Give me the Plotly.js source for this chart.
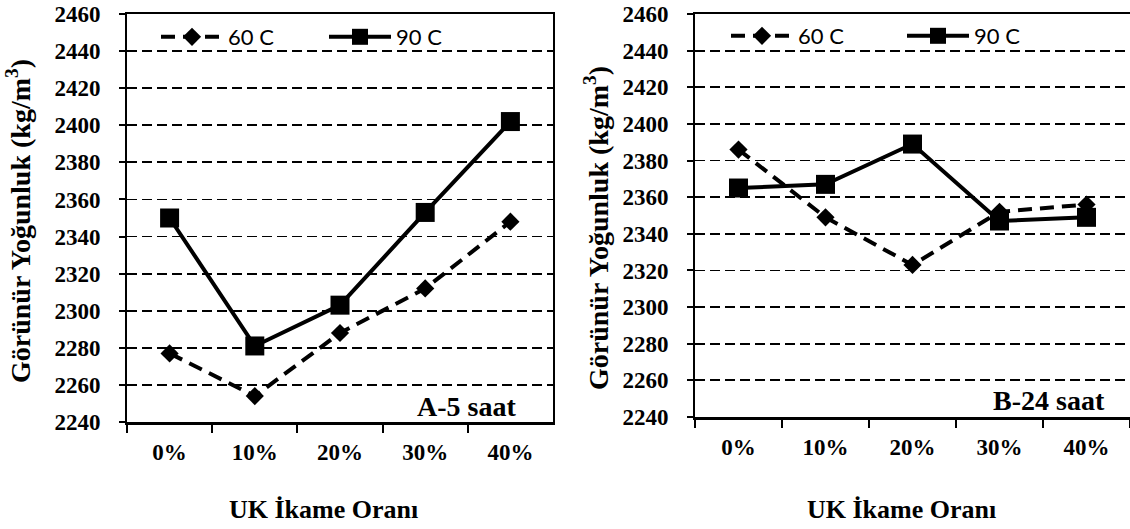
<!DOCTYPE html>
<html>
<head>
<meta charset="utf-8">
<script src="https://cdn.plot.ly/plotly-3.0.1.min.js"></script>
<style>html,body{margin:0;padding:0;background:#fff;}#chart{width:1130px;height:529px;}</style>
</head>
<body>
<div id="chart"></div>
<script>
// ---- data ----
const categories = ['0%', '10%', '20%', '30%', '40%'];
const seriesNames = ['60 C', '90 C'];
// Panel A (5 saat)
const a60 = [2277, 2254, 2288, 2312, 2348];
const a90 = [2350, 2281, 2303, 2353, 2402];
// Panel B (24 saat)
const b60 = [2386, 2349, 2323, 2352, 2356];
const b90 = [2365, 2367, 2389, 2347, 2349];
const yRange = [2240, 2460];
const yStep = 20;
const panelLabels = ['A-5 saat', 'B-24 saat'];
const xTitle = 'UK İkame Oranı';
const yTitle = 'Görünür Yoğunluk (kg/m<sup>3</sup>)';

const W = 1130, H = 529;
const px = v => v / W;
const py = v => 1 - v / H;

const serif = 'Liberation Serif, Times New Roman, serif';
const sans = 'Lato, Carlito, Calibri, sans-serif';

function s60(y, xa, ya, lg) {
  return {x: categories, y: y, xaxis: xa, yaxis: ya, name: seriesNames[0], legend: lg,
    type: 'scatter', mode: 'lines+markers',
    line: {color: '#000', width: 4, dash: '14px,8px'},
    marker: {symbol: 'diamond', size: 14, color: '#000'}};
}
function s90(y, xa, ya, lg) {
  return {x: categories, y: y, xaxis: xa, yaxis: ya, name: seriesNames[1], legend: lg,
    type: 'scatter', mode: 'lines+markers',
    line: {color: '#000', width: 4},
    marker: {symbol: 'square', size: 19, color: '#000'}};
}

const data = [
  s60(a60, 'x', 'y', 'legend'), s90(a90, 'x', 'y', 'legend'),
  s60(b60, 'x2', 'y2', 'legend2'), s90(b90, 'x2', 'y2', 'legend2')
];

function xAx(dom, anchor) {
  return {domain: dom, anchor: anchor, type: 'category', range: [-0.5, 4.5],
    showline: true, linecolor: '#000', linewidth: 2.5, mirror: true,
    ticks: 'outside', tickson: 'boundaries', ticklen: 8, tickwidth: 2, tickcolor: '#000',
    ticklabelstandoff: 8,
    showgrid: false, zeroline: false,
    tickfont: {family: serif, size: 23, color: '#000', weight: 'bold'}};
}
function yAx(dom, anchor, mirror) {
  return {domain: dom, anchor: anchor, range: yRange, dtick: yStep, tick0: yRange[0],
    showline: true, linecolor: '#000', linewidth: 2, mirror: mirror,
    ticks: 'outside', ticklen: 6, tickwidth: 2, tickcolor: '#000',
    ticklabelstandoff: 14,
    showgrid: true, gridcolor: '#000', gridwidth: 1.8, griddash: '10px,5px',
    zeroline: false,
    tickfont: {family: serif, size: 23, color: '#000', weight: 'bold'}};
}

function legendAt(xPx, yPx, ew) {
  return {x: px(xPx), y: py(yPx), xanchor: 'left', yanchor: 'middle',
    orientation: 'h', bgcolor: 'rgba(0,0,0,0)', borderwidth: 0,
    itemwidth: 62,
    entrywidth: ew, entrywidthmode: 'pixels',
    font: {family: sans, size: 22, color: '#000'}};
}

function ann(text, xPx, yPx, opts) {
  return Object.assign({text: text, xref: 'paper', yref: 'paper', x: px(xPx), y: py(yPx),
    showarrow: false, xanchor: 'center', yanchor: 'middle',
    font: {family: serif, size: 26, color: '#000', weight: 'bold'}}, opts || {});
}
const yTitleFont = {family: serif, size: 28, color: '#000', weight: 'bold'};
const panelFont = {family: serif, size: 28, color: '#000', weight: 'bold'};

const layout = {
  width: W, height: H,
  margin: {l: 0, r: 0, t: 0, b: 0},
  paper_bgcolor: '#fff', plot_bgcolor: '#fff',
  showlegend: true,
  xaxis: xAx([px(127), px(553)], 'y'),
  yaxis: yAx([py(422), py(14)], 'x', true),
  xaxis2: Object.assign(xAx([px(695), 1], 'y2'), {mirror: true}),
  yaxis2: yAx([py(417), py(14)], 'x2', false),
  legend: legendAt(156, 37, 91),
  legend2: legendAt(726, 36, 99),
  annotations: [
    ann(panelLabels[0], 518, 406, {xanchor: 'right', font: panelFont}),
    ann(panelLabels[1], 1107, 400, {xanchor: 'right', font: panelFont}),
    ann(xTitle, 323, 509),
    ann(xTitle, 901, 509),
    ann(yTitle, 18, 221, {textangle: -90, font: yTitleFont}),
    ann(yTitle, 596, 228, {textangle: -90, font: yTitleFont})
  ]
};

Plotly.newPlot('chart', data, layout, {staticPlot: true, displayModeBar: false});
</script>
</body>
</html>
